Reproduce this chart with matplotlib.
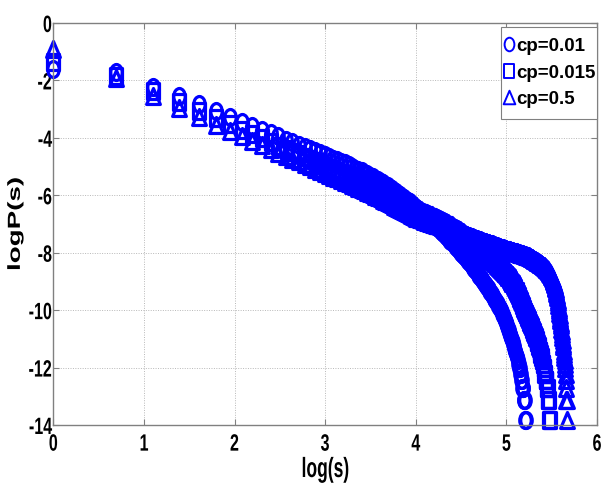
import numpy as np
import matplotlib
matplotlib.use("Agg")
import matplotlib.pyplot as plt
import matplotlib.patheffects as pe
from matplotlib.path import Path
from matplotlib.transforms import Affine2D

# ---------------- data: logP(s) for s = 1, 2, 3, ... (x = log(s)) ----------------
logp_cp001 = [
    -1.60, -1.72, -2.22, -2.55, -2.83, -3.07, -3.27, -3.44, -3.59, -3.72,
    -3.84, -3.95, -4.06, -4.15, -4.24, -4.32, -4.40, -4.47, -4.54, -4.60,
    -4.67, -4.72, -4.78, -4.83, -4.89, -4.95, -5.01, -5.07, -5.12, -5.17,
    -5.22, -5.27, -5.32, -5.37, -5.42, -5.48, -5.53, -5.58, -5.63, -5.68,
    -5.74, -5.79, -5.84, -5.89, -5.94, -6.00, -6.05, -6.10, -6.15, -6.20,
    -6.25, -6.30, -6.35, -6.40, -6.45, -6.50, -6.55, -6.60, -6.64, -6.69,
    -6.74, -6.79, -6.83, -6.88, -6.93, -6.97, -7.02, -7.06, -7.11, -7.15,
    -7.20, -7.24, -7.29, -7.33, -7.37, -7.42, -7.46, -7.50, -7.55, -7.59,
    -7.63, -7.67, -7.71, -7.75, -7.80, -7.84, -7.88, -7.92, -7.96, -8.00,
    -8.04, -8.08, -8.12, -8.16, -8.20, -8.24, -8.28, -8.32, -8.36, -8.40,
    -8.44, -8.48, -8.52, -8.56, -8.60, -8.64, -8.68, -8.72, -8.76, -8.80,
    -8.84, -8.88, -8.92, -8.96, -9.00, -9.04, -9.08, -9.12, -9.16, -9.20,
    -9.24, -9.28, -9.32, -9.36, -9.40, -9.44, -9.48, -9.52, -9.56, -9.60,
    -9.64, -9.68, -9.72, -9.76, -9.80, -9.84, -9.88, -9.92, -9.96, -10.01,
    -10.08, -10.13, -10.18, -10.23, -10.29, -10.35, -10.41, -10.45, -10.52, -10.56,
    -10.64, -10.68, -10.77, -10.82, -10.87, -10.93, -10.98, -11.04, -11.11, -11.18,
    -11.25, -11.33, -11.42, -11.42, -11.51, -11.62, -11.62, -11.74, -11.87, -11.87,
    -12.03, -12.03, -12.21, -12.21, -12.43, -12.43, -12.72, -12.72, -12.72, -13.12,
    -13.12, -13.12, -13.82, -13.82,
]

logp_cp0015 = [
    -1.36, -1.83, -2.38, -2.75, -3.05, -3.31, -3.53, -3.71, -3.87, -4.02,
    -4.15, -4.27, -4.38, -4.48, -4.57, -4.66, -4.75, -4.82, -4.90, -4.97,
    -5.04, -5.10, -5.16, -5.22, -5.27, -5.33, -5.38, -5.43, -5.48, -5.52,
    -5.57, -5.61, -5.65, -5.69, -5.73, -5.77, -5.81, -5.85, -5.89, -5.93,
    -5.97, -6.02, -6.06, -6.10, -6.14, -6.18, -6.22, -6.26, -6.30, -6.35,
    -6.39, -6.43, -6.47, -6.51, -6.55, -6.57, -6.60, -6.62, -6.65, -6.67,
    -6.69, -6.72, -6.74, -6.77, -6.79, -6.81, -6.84, -6.86, -6.89, -6.91,
    -6.93, -6.96, -6.98, -7.01, -7.03, -7.05, -7.08, -7.10, -7.13, -7.15,
    -7.17, -7.20, -7.22, -7.25, -7.27, -7.29, -7.32, -7.34, -7.37, -7.39,
    -7.41, -7.44, -7.46, -7.49, -7.51, -7.53, -7.56, -7.58, -7.61, -7.63,
    -7.65, -7.68, -7.70, -7.73, -7.75, -7.77, -7.80, -7.82, -7.85, -7.87,
    -7.89, -7.92, -7.94, -7.97, -7.99, -8.01, -8.04, -8.06, -8.09, -8.11,
    -8.13, -8.16, -8.18, -8.21, -8.23, -8.25, -8.28, -8.30, -8.33, -8.35,
    -8.37, -8.40, -8.42, -8.45, -8.47, -8.49, -8.52, -8.54, -8.57, -8.59,
    -8.61, -8.64, -8.66, -8.69, -8.71, -8.73, -8.76, -8.78, -8.81, -8.83,
    -8.86, -8.89, -8.92, -8.95, -8.98, -9.01, -9.04, -9.07, -9.10, -9.14,
    -9.17, -9.21, -9.24, -9.28, -9.32, -9.35, -9.39, -9.43, -9.47, -9.51,
    -9.56, -9.60, -9.64, -9.69, -9.73, -9.78, -9.83, -9.87, -9.92, -9.97,
    -10.01, -10.06, -10.08, -10.13, -10.15, -10.21, -10.23, -10.29, -10.32, -10.35,
    -10.41, -10.45, -10.48, -10.52, -10.56, -10.60, -10.64, -10.68, -10.73, -10.77,
    -10.77, -10.82, -10.87, -10.93, -10.93, -10.98, -11.04, -11.11, -11.11, -11.18,
    -11.25, -11.25, -11.33, -11.42, -11.42, -11.51, -11.51, -11.62, -11.62, -11.74,
    -11.74, -11.87, -11.87, -12.03, -12.03, -12.21, -12.21, -12.21, -12.43, -12.43,
    -12.43, -12.72, -12.72, -12.72, -13.12, -13.12, -13.12, -13.82, -13.82,
]

logp_cp05 = [
    -0.89, -1.93, -2.53, -2.96, -3.29, -3.55, -3.77, -3.95, -4.12, -4.26,
    -4.39, -4.51, -4.62, -4.73, -4.82, -4.91, -4.99, -5.07, -5.15, -5.22,
    -5.29, -5.35, -5.41, -5.47, -5.53, -5.58, -5.63, -5.68, -5.73, -5.78,
    -5.82, -5.87, -5.91, -5.96, -6.01, -6.06, -6.10, -6.15, -6.19, -6.24,
    -6.28, -6.32, -6.36, -6.40, -6.44, -6.47, -6.51, -6.55, -6.58, -6.62,
    -6.65, -6.68, -6.72, -6.75, -6.78, -6.80, -6.82, -6.84, -6.86, -6.88,
    -6.90, -6.92, -6.93, -6.95, -6.97, -6.99, -7.00, -7.02, -7.03, -7.05,
    -7.06, -7.08, -7.09, -7.11, -7.12, -7.14, -7.15, -7.17, -7.18, -7.20,
    -7.21, -7.22, -7.24, -7.25, -7.26, -7.27, -7.29, -7.30, -7.31, -7.33,
    -7.34, -7.35, -7.36, -7.38, -7.39, -7.40, -7.41, -7.42, -7.43, -7.44,
    -7.45, -7.46, -7.47, -7.49, -7.50, -7.51, -7.52, -7.53, -7.54, -7.55,
    -7.56, -7.57, -7.58, -7.59, -7.60, -7.61, -7.62, -7.63, -7.64, -7.65,
    -7.66, -7.66, -7.67, -7.68, -7.69, -7.70, -7.71, -7.71, -7.72, -7.73,
    -7.74, -7.75, -7.76, -7.77, -7.78, -7.79, -7.79, -7.80, -7.81, -7.82,
    -7.83, -7.84, -7.84, -7.85, -7.86, -7.87, -7.87, -7.88, -7.89, -7.89,
    -7.90, -7.90, -7.91, -7.92, -7.92, -7.93, -7.93, -7.94, -7.94, -7.95,
    -7.96, -7.96, -7.97, -7.97, -7.98, -7.99, -7.99, -8.00, -8.00, -8.01,
    -8.02, -8.02, -8.03, -8.03, -8.04, -8.05, -8.05, -8.06, -8.06, -8.07,
    -8.08, -8.08, -8.09, -8.09, -8.10, -8.11, -8.11, -8.12, -8.12, -8.13,
    -8.14, -8.15, -8.16, -8.17, -8.18, -8.19, -8.20, -8.21, -8.22, -8.23,
    -8.24, -8.25, -8.26, -8.27, -8.28, -8.29, -8.30, -8.31, -8.32, -8.33,
    -8.34, -8.35, -8.36, -8.37, -8.38, -8.39, -8.40, -8.41, -8.42, -8.43,
    -8.44, -8.45, -8.46, -8.47, -8.48, -8.50, -8.51, -8.52, -8.54, -8.55,
    -8.57, -8.58, -8.60, -8.61, -8.63, -8.65, -8.67, -8.69, -8.71, -8.73,
    -8.75, -8.77, -8.80, -8.82, -8.85, -8.88, -8.91, -8.94, -8.97, -9.01,
    -9.05, -9.09, -9.13, -9.18, -9.23, -9.28, -9.33, -9.40, -9.47, -9.55,
    -9.63, -9.72, -9.81, -9.91, -10.01, -10.10, -10.18, -10.26, -10.35, -10.45,
    -10.52, -10.64, -10.73, -10.82, -10.93, -11.04, -11.18, -11.25, -11.42, -11.51,
    -11.62, -11.74, -11.87, -12.03, -12.21, -12.43, -12.72, -13.12, -13.12, -13.82,
]

series_labels = ["cp=0.01", "cp=0.015", "cp=0.5"]
x_ticks = [0, 1, 2, 3, 4, 5, 6]
x_tick_labels = ["0", "1", "2", "3", "4", "5", "6"]
y_ticks = [0, -2, -4, -6, -8, -10, -12, -14]
y_tick_labels = ["0", "-2", "-4", "-6", "-8", "-10", "-12", "-14"]

# ---------------- style ----------------
plt.rcParams["font.family"] = ["Liberation Sans", "DejaVu Sans"]
plt.rcParams["font.weight"] = "bold"
BLUE = "#0000ff"


class Squeeze(pe.AbstractPathEffect):
    """Narrow the rendered glyphs horizontally (the reference text is condensed)."""

    def __init__(self, sx=0.65, anchor="center"):
        super().__init__()
        self.sx = sx
        self.anchor = anchor

    def draw_path(self, renderer, gc, tpath, affine, rgbFace=None):
        ext = tpath.get_extents(affine)
        if self.anchor == "right":
            cx = ext.x1
        elif self.anchor == "left":
            cx = ext.x0
        else:
            cx = 0.5 * (ext.x0 + ext.x1)
        t = affine + Affine2D().translate(-cx, 0).scale(self.sx, 1.0).translate(cx, 0)
        renderer.draw_path(gc, tpath, t, rgbFace)


class PadBox:
    """Square legend frame with separate horizontal / vertical padding (pixels)."""

    def __init__(self, padx, pady):
        self.padx = padx
        self.pady = pady

    def __call__(self, x0, y0, width, height, mutation_size):
        xa, xb = x0 - self.padx, x0 + width + self.padx
        ya, yb = y0 - self.pady, y0 + height + self.pady
        return Path([(xa, ya), (xb, ya), (xb, yb), (xa, yb), (xa, ya)], closed=True)


# tall (vertically stretched) marker shapes like the reference
m_circle = Path.unit_circle().transformed(Affine2D().scale(0.72, 1.0))
m_square = Path([(-0.8, -1), (0.8, -1), (0.8, 1), (-0.8, 1), (-0.8, -1)], closed=True)
m_triangle = Path([(0, 1), (-0.86, -1), (0.86, -1), (0, 1)], closed=True)

fig = plt.figure(figsize=(6.03, 4.84), dpi=100)
ax = fig.add_axes([53.3 / 603, 59 / 484, 543.7 / 603, 402 / 484])

for vals, mk, lab in zip([logp_cp001, logp_cp0015, logp_cp05],
                         [m_circle, m_square, m_triangle], series_labels):
    s = np.arange(1, len(vals) + 1)
    ax.plot(np.log(s), vals, linestyle="none", marker=mk, markersize=11.5,
            markerfacecolor="none", markeredgecolor=BLUE, markeredgewidth=2.3,
            label=lab, clip_on=False)

ax.set_xlim(0, 6)
ax.set_ylim(-14, 0)
ax.set_xticks(x_ticks, x_tick_labels)
ax.set_yticks(y_ticks, y_tick_labels)
ax.tick_params(direction="in", length=4, width=0.8, color="0.5",
               top=True, right=True, labelsize=17)
ax.tick_params(axis="x", pad=5.5)
ax.tick_params(axis="y", pad=0.8)
for t in ax.get_xticklabels():
    t.set_path_effects([Squeeze(0.68, "center")])
for t in ax.get_yticklabels():
    t.set_path_effects([Squeeze(0.68, "right")])

for sp in ax.spines.values():
    sp.set_color("0.5")
    sp.set_linewidth(1.0)

ax.grid(True, color="0.72", linestyle=(0, (1, 1.5)), linewidth=0.7)
ax.set_axisbelow(True)

xl = ax.set_xlabel("log(s)", fontsize=20, fontweight="bold", va="center")
ax.xaxis.set_label_coords(0.5, (425 - 470) / 402)
xl.set_path_effects([Squeeze(0.63)])
yl = ax.set_ylabel("logP(s)", fontsize=20, fontweight="bold", va="center")
ax.yaxis.set_label_coords((15.5 - 53.3) / 543.7, 0.5)
yl.set_path_effects([Squeeze(0.63)])

leg = ax.legend(loc="upper right", bbox_to_anchor=(1.0, (425 - 36) / 402),
                borderaxespad=0, fontsize=13.5, markerscale=0.85,
                handlelength=0.65, handletextpad=0.05, borderpad=0.1,
                labelspacing=0.5, frameon=True, fancybox=False,
                framealpha=1, edgecolor="0.5")
leg.get_frame().set_linewidth(0.8)
leg.get_frame().set_boxstyle(PadBox(0, 9))
for h in leg.legend_handles:
    h.set_markeredgewidth(1.4)

fig.savefig("out.png", dpi=100)
